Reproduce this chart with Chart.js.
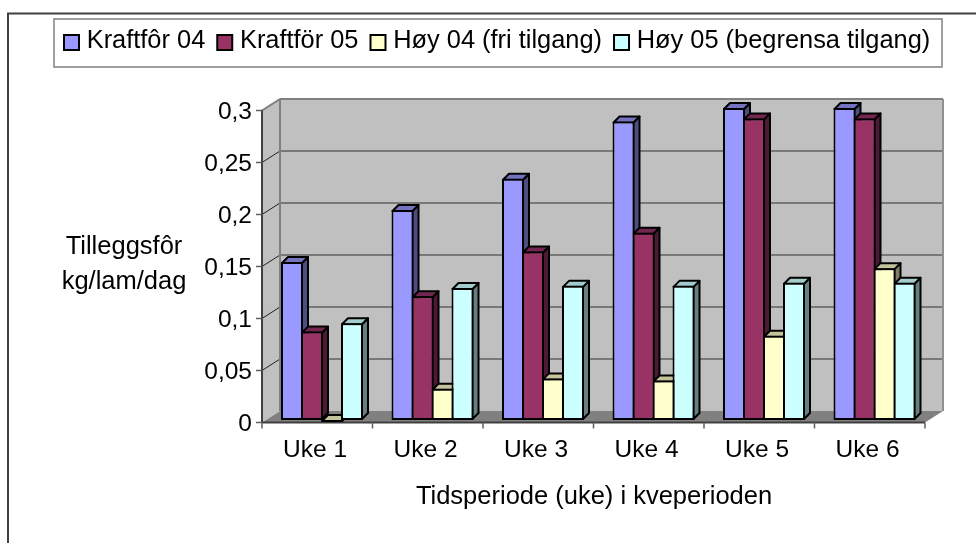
<!doctype html>
<html lang="en">
  <head>
    <script src="https://cdn.jsdelivr.net/npm/chart.js"></script>
    <style>
      body { margin: 0; background: #fff; }
      canvas { display: block; }
    </style>
  </head>
  <body>
    <canvas id="myChart" width="976" height="543"></canvas>
    <script>
      const categories = ['Uke 1', 'Uke 2', 'Uke 3', 'Uke 4', 'Uke 5', 'Uke 6'];
      const seriesNames = ['Kraftfôr 04', 'Kraftför 05', 'Høy 04 (fri tilgang)', 'Høy 05 (begrensa tilgang)'];
      const kraftfor04 = [0.152, 0.202, 0.232, 0.287, 0.3, 0.3];
      const kraftfor05 = [0.085, 0.119, 0.162, 0.18, 0.29, 0.29];
      const hoy04 = [0, 0.03, 0.04, 0.038, 0.081, 0.146];
      const hoy05 = [0.093, 0.127, 0.129, 0.129, 0.132, 0.132];
      const yTickLabels = ['0', '0,05', '0,1', '0,15', '0,2', '0,25', '0,3'];

      // front, side and top face colours per series
      const faces = [
        ['#9999ff', '#4d4d80', '#7373bf'],
        ['#993366', '#4d1a33', '#732650'],
        ['#ffffcc', '#808066', '#c4c49c'],
        ['#ccffff', '#668080', '#a3cccc']
      ];

      Chart.defaults.font.family = "'Liberation Sans', Arial, sans-serif";
      Chart.defaults.color = '#000';

      // chart area is the plane the bar fronts sit on, walls and axes are shifted from it
      const AREA = { left: 266.75, right: 929.75, top: 108, bottom: 420 };
      const FRONT = { dx: -4.75, dy: 2.5 };
      const BACK = { dx: 13.25, dy: -9 };
      const DEPTH = { dx: 6, dy: -6 };

      function line(ctx, x1, y1, x2, y2, color, width) {
        ctx.strokeStyle = color;
        ctx.lineWidth = width;
        ctx.beginPath();
        ctx.moveTo(x1, y1);
        ctx.lineTo(x2, y2);
        ctx.stroke();
      }

      function poly(ctx, pts, fill, stroke, width) {
        ctx.beginPath();
        pts.forEach(function (p, i) {
          if (i == 0) ctx.moveTo(p[0], p[1]); else ctx.lineTo(p[0], p[1]);
        });
        ctx.closePath();
        ctx.fillStyle = fill;
        ctx.fill();
        if (stroke) {
          ctx.strokeStyle = stroke;
          ctx.lineWidth = width;
          ctx.lineJoin = 'round';
          ctx.stroke();
        }
      }

      const scenePlugin = {
        id: 'scene',
        afterLayout: function (chart) {
          // place the legend row inside its frame, one row only
          const legend = chart.legend;
          legend.maxWidth = 900;
          legend.maxHeight = 50;
          legend.fit();
          legend.left = 52;
          legend.right = 952;
          legend.width = 900;
          legend.top = 17.5;
          legend.bottom = 67.5;
        },
        beforeDatasetsDraw: function (chart) {
          const ctx = chart.ctx;
          const ys = chart.scales.y;
          const y0 = ys.getPixelForValue(0);
          const yMax = ys.getPixelForValue(0.3);
          const bl = AREA.left + BACK.dx, br = AREA.right + BACK.dx;
          const fl = AREA.left + FRONT.dx, fr = AREA.right + FRONT.dx;
          ctx.save();

          // walls and floor
          poly(ctx, [[fl, yMax + FRONT.dy], [bl, yMax + BACK.dy], [bl, y0 + BACK.dy], [fl, y0 + FRONT.dy]], '#c0c0c0');
          poly(ctx, [[bl, yMax + BACK.dy], [br, yMax + BACK.dy], [br, y0 + BACK.dy], [bl, y0 + BACK.dy]], '#c0c0c0');
          poly(ctx, [[fl, y0 + FRONT.dy], [bl, y0 + BACK.dy], [br, y0 + BACK.dy], [fr, y0 + FRONT.dy]], '#808080');

          // gridlines
          ys.ticks.forEach(function (t) {
            const y = ys.getPixelForValue(t.value);
            if (t.value > 0 && t.value < 0.3) {
              line(ctx, bl, y + BACK.dy, br, y + BACK.dy, '#606060', 1.5);
            }
            if (t.value > 0) {
              line(ctx, fl, y + FRONT.dy, bl, y + BACK.dy, '#202020', 1);
            }
          });
          line(ctx, bl, yMax + BACK.dy, br, yMax + BACK.dy, '#808080', 2);
          line(ctx, bl, yMax + BACK.dy, bl, y0 + BACK.dy, '#808080', 2);
          line(ctx, br, yMax + BACK.dy, br, y0 + BACK.dy, '#909090', 2);
          line(ctx, fl, yMax + FRONT.dy, bl, yMax + BACK.dy, '#808080', 2);

          // axes and ticks on the front plane
          line(ctx, fl, yMax + FRONT.dy, fl, y0 + FRONT.dy, '#404040', 2);
          line(ctx, fl, y0 + FRONT.dy, fr, y0 + FRONT.dy, '#404040', 2);
          ys.ticks.forEach(function (t) {
            const y = ys.getPixelForValue(t.value) + FRONT.dy;
            line(ctx, fl - 6, y, fl, y, '#606060', 1.5);
          });
          const cell = (AREA.right - AREA.left) / categories.length;
          for (let i = 0; i <= categories.length; i++) {
            const x = fl + i * cell;
            line(ctx, x, y0 + FRONT.dy, x, y0 + FRONT.dy + 6, '#606060', 1.5);
          }

          // sides and tops of the bars, left to right so nearer faces cover older ones
          categories.forEach(function (c, i) {
            chart.data.datasets.forEach(function (ds, d) {
              const bar = chart.getDatasetMeta(d).data[i];
              const half = bar.width / 2 - 1;
              const l = bar.x - half, r = bar.x + half, t = bar.y + 1, b = bar.base - 1;
              poly(ctx, [[r, t], [r + DEPTH.dx, t + DEPTH.dy], [r + DEPTH.dx, b + DEPTH.dy], [r, b]], faces[d][1], '#000', 2);
              poly(ctx, [[l, t], [l + DEPTH.dx, t + DEPTH.dy], [r + DEPTH.dx, t + DEPTH.dy], [r, t]], faces[d][2], '#000', 2);
            });
          });
          ctx.restore();
        },
        afterDraw: function (chart) {
          const ctx = chart.ctx;
          const legend = chart.legend;
          ctx.save();

          // outer frame runs off the right and bottom of the picture, then the legend frame
          ctx.strokeStyle = '#404040';
          ctx.lineWidth = 2;
          ctx.strokeRect(8, 13.5, 1000, 600);
          ctx.strokeStyle = '#808080';
          ctx.lineWidth = 1.5;
          ctx.strokeRect(54, 19, 888, 48);

          // legend swatches, the text stays with the library
          legend.legendHitBoxes.forEach(function (hit, i) {
            ctx.fillStyle = faces[i][0];
            ctx.strokeStyle = '#000';
            ctx.lineWidth = 2;
            ctx.fillRect(hit.left + 1, 35, 15, 15);
            ctx.strokeRect(hit.left + 1, 35, 15, 15);
          });

          // axis titles
          ctx.fillStyle = '#000';
          ctx.font = "25.5px 'Liberation Sans', Arial, sans-serif";
          ctx.textAlign = 'center';
          ctx.textBaseline = 'middle';
          ctx.fillText('Tilleggsfôr', 124, 247);
          ctx.fillText('kg/lam/dag', 124, 282);
          ctx.fillText('Tidsperiode (uke) i kveperioden', 594, 497);
          ctx.restore();
        }
      };

      const datasets = [kraftfor04, kraftfor05, hoy04, hoy05].map(function (values, i) {
        return {
          label: seriesNames[i],
          data: values,
          backgroundColor: faces[i][0],
          borderColor: '#000',
          borderWidth: 2,
          borderSkipped: false,
          barPercentage: 1.1,
          categoryPercentage: 80 / 110.5
        };
      });

      const chart = new Chart(document.getElementById('myChart'), {
        type: 'bar',
        data: { labels: categories, datasets: datasets },
        plugins: [scenePlugin],
        options: {
          responsive: false,
          animation: false,
          layout: { padding: { left: AREA.left - 100, right: 976 - AREA.right, top: 40, bottom: 543 - AREA.bottom - 60 } },
          plugins: {
            tooltip: { enabled: false },
            legend: {
              position: 'top',
              align: 'start',
              labels: {
                boxWidth: 11,
                boxHeight: 10,
                padding: 11,
                font: { size: 25.4 },
                generateLabels: function (c) {
                  return c.data.datasets.map(function (ds, i) {
                    return { text: ds.label, fillStyle: 'transparent', strokeStyle: 'transparent', lineWidth: 0, datasetIndex: i };
                  });
                }
              }
            }
          },
          scales: {
            x: {
              grid: { display: false, drawTicks: false },
              border: { display: false },
              ticks: { padding: 16, labelOffset: -7, font: { size: 24.5 }, maxRotation: 0 },
              afterFit: function (scale) { scale.height = 60; }
            },
            y: {
              min: 0,
              max: 0.3,
              grid: { display: false, drawTicks: false },
              border: { display: false },
              ticks: {
                stepSize: 0.05,
                padding: 14.75,
                labelOffset: 4,
                font: { size: 24.5 },
                callback: function (v, i) { return yTickLabels[i]; }
              },
              afterFit: function (scale) { scale.width = 100; }
            }
          }
        }
      });

      // legend height is only known after the first layout, pull the plot top onto AREA.top
      chart.options.layout.padding.top += AREA.top - chart.chartArea.top;
      chart.update();
    </script>
  </body>
</html>
